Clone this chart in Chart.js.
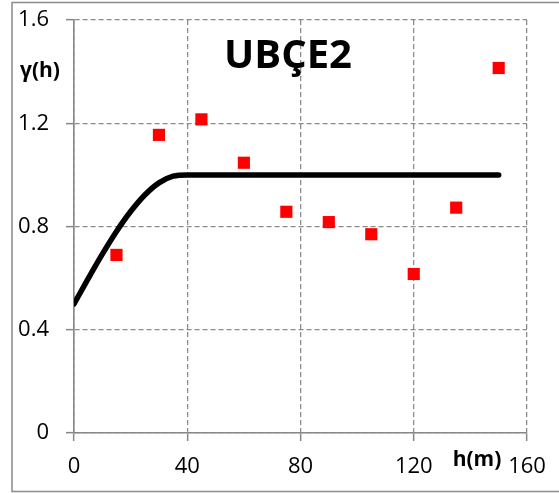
<!DOCTYPE html>
<html>
<head>
<meta charset="utf-8">
<script src="https://cdn.jsdelivr.net/npm/chart.js@4/dist/chart.umd.min.js"></script>
<style>
  html, body { margin: 0; padding: 0; background: #ffffff; }
  #wrap { width: 559px; height: 493px; }
</style>
</head>
<body>
<div id="wrap"><canvas id="vario" width="559" height="493"></canvas></div>
<script>
// Experimental semivariogram: lag distance h (m) and semivariance γ(h)
const lagDistances = [15, 30, 45, 60, 75, 90, 105, 120, 135, 150];
const semivariance = [0.69, 1.155, 1.215, 1.047, 0.857, 0.817, 0.77, 0.616, 0.873, 1.414];

// Fitted model curve (nugget ≈ 0.5, sill ≈ 1.0, range ≈ 40 m)
const modelLag   = [0, 5, 10, 15, 20, 25, 30, 35, 40, 150];
const modelGamma = [0.5, 0.598, 0.693, 0.781, 0.858, 0.922, 0.969, 0.995, 1.0, 1.0];

// Axis tick labels
const xTickLabels = ['0', '40', '80', '120', '160'];
const yTickLabels = ['0', '0.4', '0.8', '1.2', '1.6'];

const chartTitle = 'UBÇE2';
const yAxisTitle = 'γ(h)';
const xAxisTitle = 'h(m)';

const FONT = '"Open Sans", "Noto Sans", sans-serif';
const GRID = '#8c8c8c';
const AXIS = '#878787';

// Frame around the whole figure plus the in-plot texts
const decorations = {
  id: 'decorations',
  beforeDraw(chart) {
    const ctx = chart.ctx;
    ctx.save();
    ctx.fillStyle = '#ffffff';
    ctx.fillRect(0, 0, chart.width, chart.height);
    ctx.restore();
  },
  afterDraw(chart) {
    const ctx = chart.ctx;
    ctx.save();
    ctx.strokeStyle = '#8f8f8f';
    ctx.lineWidth = 1.6;
    ctx.strokeRect(12, 2.5, 600, 489);

    ctx.fillStyle = '#000000';
    ctx.textBaseline = 'alphabetic';
    ctx.textAlign = 'center';
    ctx.font = 'bold 40px ' + FONT;
    ctx.fillText(chartTitle, 288, 68);

    ctx.font = 'bold 21px ' + FONT;
    ctx.fillText(yAxisTitle, 40, 77);
    ctx.fillText(xAxisTitle, 477, 466);
    ctx.restore();
  }
};

new Chart(document.getElementById('vario'), {
  type: 'scatter',
  data: {
    datasets: [
      {
        label: 'model',
        type: 'line',
        data: modelLag.map((h, i) => ({ x: h, y: modelGamma[i] })),
        borderColor: '#000000',
        borderWidth: 5.5,
        borderCapStyle: 'round',
        borderJoinStyle: 'round',
        cubicInterpolationMode: 'monotone',
        pointRadius: 0,
        fill: false,
        order: 1
      },
      {
        label: 'experimental',
        data: lagDistances.map((h, i) => ({ x: h, y: semivariance[i] })),
        pointStyle: 'rect',
        pointRadius: 8.6,
        pointHoverRadius: 8.6,
        backgroundColor: '#ff0000',
        borderWidth: 0,
        order: 0
      }
    ]
  },
  options: {
    responsive: false,
    animation: false,
    devicePixelRatio: 1,
    layout: { padding: { left: 0, top: 20, right: 32, bottom: 0 } },
    plugins: {
      legend: { display: false },
      tooltip: { enabled: false },
      title: { display: false }
    },
    scales: {
      x: {
        type: 'linear',
        min: 0,
        max: 160,
        afterFit(scale) { scale.height = 60; },
        ticks: {
          stepSize: 40,
          padding: 13,
          color: '#000000',
          font: { family: FONT, size: 22 },
          maxRotation: 0,
          callback: (v, i) => xTickLabels[i]
        },
        grid: {
          color: GRID,
          lineWidth: 1.3,
          tickLength: 8,
          tickBorderDash: [],
          tickColor: AXIS,
          tickWidth: 1.5
        },
        border: { display: true, color: AXIS, width: 1.6, dash: [5, 3] }
      },
      y: {
        type: 'linear',
        min: 0,
        max: 1.6,
        afterFit(scale) {
          scale.width = 74;
          // let the layout padding alone decide the top edge of the plot
          scale.paddingTop = 0;
          scale.paddingBottom = 0;
        },
        ticks: {
          stepSize: 0.4,
          padding: 17,
          color: '#000000',
          font: { family: FONT, size: 22 },
          callback: (v, i) => yTickLabels[i]
        },
        grid: {
          color: GRID,
          lineWidth: 1.3,
          tickLength: 8,
          tickBorderDash: [],
          tickColor: AXIS,
          tickWidth: 1.5
        },
        border: { display: true, color: AXIS, width: 1.6, dash: [5, 3] }
      }
    }
  },
  plugins: [decorations]
});
</script>
</body>
</html>
